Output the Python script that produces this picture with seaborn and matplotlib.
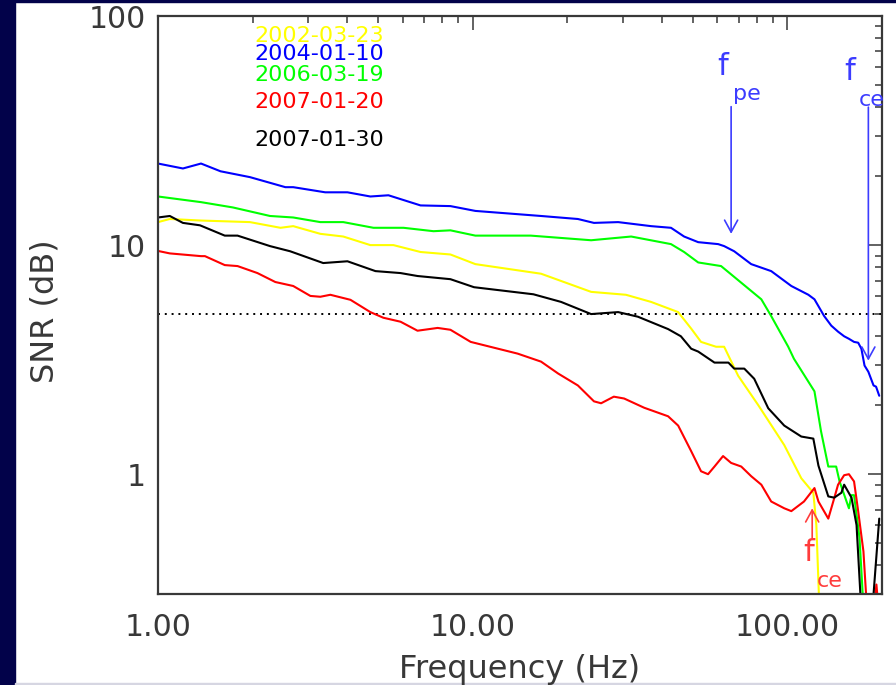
import numpy as np
import pandas as pd
import matplotlib
matplotlib.use("Agg")
import matplotlib.pyplot as plt
from matplotlib.patches import Rectangle
from matplotlib.ticker import FixedLocator, FixedFormatter, LogLocator, NullFormatter
import seaborn as sns

# ---- data -------------------------------------------------------------
dates = ["2002-03-23", "2004-01-10", "2006-03-19", "2007-01-20", "2007-01-30"]
line_colors = ["#ffff00", "#0000ff", "#00ff00", "#ff0000", "#000000"]

freq_2002 = [1.0, 1.09, 1.37, 1.96, 2.45, 2.69, 3.28, 3.88, 4.73, 5.6, 6.83, 8.5,
             10.2, 16.5, 23.8, 30.7, 36.9, 45.0, 49.5, 53.2, 59.4, 63.0, 69.8,
             80.9, 97.8, 110.8, 121.0, 123.7, 126.0, 128.0]
snr_2002 = [12.6, 13.0, 12.8, 12.6, 11.9, 12.1, 11.2, 10.9, 10.0, 10.0, 9.33, 9.1,
            8.26, 7.5, 6.25, 6.07, 5.65, 5.1, 4.32, 3.78, 3.6, 3.6, 2.69,
            2.0, 1.34, 0.96, 0.83, 0.6, 0.3, 0.2]

freq_2004 = [1.0, 1.2, 1.37, 1.58, 1.96, 2.54, 2.69, 3.4, 4.0, 4.73, 5.4, 6.83, 8.5,
             10.2, 16.5, 21.6, 24.3, 29.0, 36.9, 42.7, 47.0, 52.1, 60.3, 63.0,
             67.8, 76.8, 88.9, 103.0, 116.7, 122.0, 131.0, 138.0, 145.0, 151.6,
             157.0, 163.0, 168.0, 172.0, 176.0, 181.0, 188.0, 191.5, 196.0]
snr_2004 = [22.7, 21.6, 22.7, 21.0, 19.8, 17.9, 17.9, 17.0, 17.0, 16.3, 16.5, 14.9, 14.8,
            14.1, 13.4, 13.0, 12.5, 12.6, 12.1, 11.9, 10.9, 10.3, 10.1, 9.9,
            9.4, 8.26, 7.7, 6.63, 6.07, 5.8, 4.9, 4.45, 4.19, 4.0,
            3.9, 3.78, 3.75, 3.53, 2.98, 2.8, 2.44, 2.41, 2.2]

freq_2006 = [1.0, 1.37, 1.73, 2.27, 2.69, 3.28, 3.88, 4.84, 6.03, 7.51, 8.5,
             10.2, 15.3, 23.8, 31.9, 42.7, 47.0, 52.1, 61.6, 82.7, 88.9, 100.7,
             105.0, 122.0, 128.0, 135.0, 143.0, 146.6, 157.0, 160.0, 163.0,
             169.6, 175.0]
snr_2006 = [16.3, 15.4, 14.6, 13.4, 13.2, 12.6, 12.6, 11.9, 11.9, 11.5, 11.6,
            11.0, 11.0, 10.5, 10.9, 10.1, 9.33, 8.4, 8.1, 5.8, 4.9, 3.6,
            3.19, 2.3, 1.54, 1.08, 1.08, 0.93, 0.71, 0.81, 0.81,
            0.53, 0.25]

freq_20070120 = [1.0, 1.09, 1.37, 1.41, 1.63, 1.79, 2.07, 2.36, 2.69, 3.05, 3.28, 3.53,
                 4.09, 4.73, 5.2, 5.9, 6.68, 7.74, 8.5, 9.86, 13.9, 16.5, 18.7,
                 21.6, 24.3, 25.6, 28.1, 30.3, 35.1, 41.8, 45.0, 49.5, 53.2, 56.0,
                 58.7, 62.5, 66.3, 71.4, 76.8, 82.7, 88.9, 97.8, 103.0, 113.0,
                 122.0, 125.6, 135.0, 140.0, 145.0, 151.6, 157.0, 163.0, 168.0,
                 174.6, 178.5, 185.0, 192.0, 198.0]
snr_20070120 = [9.43, 9.2, 8.95, 8.95, 8.18, 8.1, 7.55, 6.9, 6.63, 6.0, 5.95, 6.07,
                5.77, 5.1, 4.82, 4.63, 4.23, 4.35, 4.27, 3.78, 3.36, 3.1, 2.75,
                2.44, 2.08, 2.04, 2.18, 2.14, 1.95, 1.79, 1.63, 1.26, 1.03, 1.0,
                1.08, 1.2, 1.12, 1.08, 0.98, 0.9, 0.76, 0.71, 0.69, 0.76,
                0.87, 0.76, 0.64, 0.76, 0.90, 0.99, 1.0, 0.93, 0.69,
                0.46, 0.28, 0.2, 0.33, 0.2]

freq_20070130 = [1.0, 1.09, 1.2, 1.36, 1.63, 1.79, 2.27, 2.63, 3.35, 4.0, 4.91, 5.9,
                 6.68, 8.5, 10.1, 15.6, 19.1, 23.8, 29.0, 33.5, 41.8, 45.9, 49.5,
                 52.1, 58.7, 65.0, 67.8, 73.0, 78.5, 87.0, 97.8, 110.8, 121.0,
                 125.6, 135.0, 141.0, 148.6, 151.6, 160.0, 166.0, 172.0, 180.0,
                 188.0, 196.0]
snr_20070130 = [13.2, 13.4, 12.5, 12.2, 11.0, 11.0, 9.9, 9.4, 8.35, 8.5, 7.7, 7.55,
                7.33, 7.1, 6.55, 6.1, 5.65, 5.0, 5.1, 4.87, 4.3, 4.0, 3.53,
                3.43, 3.07, 3.07, 2.89, 2.89, 2.61, 1.94, 1.63, 1.46, 1.43,
                1.09, 0.80, 0.79, 0.83, 0.90, 0.79, 0.6, 0.25, 0.15,
                0.3, 0.64]

threshold = 5.0

x_ticks = [1, 10, 100]
x_tick_labels = ["1.00", "10.00", "100.00"]
y_ticks = [1, 10, 100]
y_tick_labels = ["1", "10", "100"]

series = [(freq_2002, snr_2002), (freq_2004, snr_2004), (freq_2006, snr_2006),
          (freq_20070120, snr_20070120), (freq_20070130, snr_20070130)]

df = pd.concat(
    [pd.DataFrame({"freq": f, "snr": s, "date": d}) for d, (f, s) in zip(dates, series)],
    ignore_index=True,
)

# ---- figure -----------------------------------------------------------
sns.set_style("white")
plt.rcParams["font.family"] = ["DejaVu Sans"]
text_color = "#383838"
navy = "#02024a"

fig = plt.figure(figsize=(8.96, 6.85), dpi=100, facecolor="white")
fig.patches.append(Rectangle((0, 0), 15 / 896, 1, transform=fig.transFigure,
                             color=navy, zorder=-10))
fig.patches.append(Rectangle((0, 1 - 2 / 685), 1, 2 / 685, transform=fig.transFigure,
                             color=navy, zorder=-10))
fig.patches.append(Rectangle((15 / 896, 0), 1, 2 / 685, transform=fig.transFigure,
                             color="#d6d6e2", zorder=-10))

ax = fig.add_axes([158 / 896, 1 - 594 / 685, 724 / 896, 578 / 685])
ax.set_facecolor("white")

sns.lineplot(data=df, x="freq", y="snr", hue="date", hue_order=dates,
             palette=dict(zip(dates, line_colors)), sort=False, estimator=None,
             linewidth=1.5, legend=False, ax=ax)

ax.axhline(threshold, color="black", linestyle=(0, (1, 2.5)), linewidth=1.4, zorder=1)

ax.set_xscale("log")
ax.set_yscale("log")
ax.set_xlim(1, 200)
ax.set_ylim(0.3, 100)

ax.xaxis.set_major_locator(FixedLocator(x_ticks))
ax.xaxis.set_major_formatter(FixedFormatter(x_tick_labels))
ax.xaxis.set_minor_locator(LogLocator(base=10, subs=np.arange(2, 10)))
ax.xaxis.set_minor_formatter(NullFormatter())
ax.yaxis.set_major_locator(FixedLocator(y_ticks))
ax.yaxis.set_major_formatter(FixedFormatter(y_tick_labels))
ax.yaxis.set_minor_locator(LogLocator(base=10, subs=np.arange(2, 10)))
ax.yaxis.set_minor_formatter(NullFormatter())

ax.tick_params(which="both", direction="in", top=True, right=True,
               color=text_color, width=1.1, labelcolor=text_color, labelsize=21.5)
ax.tick_params(which="major", length=10)
ax.tick_params(which="minor", length=5)
ax.tick_params(axis="x", which="major", pad=14)
ax.tick_params(axis="y", which="major", pad=9)
for sp in ax.spines.values():
    sp.set_color(text_color)
    sp.set_linewidth(1.6)

ax.set_xlabel("Frequency (Hz)", fontsize=23, color=text_color)
ax.set_ylabel("SNR (dB)", fontsize=23, color=text_color)
ax.xaxis.set_label_coords(0.5, -0.103)
ax.yaxis.set_label_coords(-0.135, 0.49)

# date labels, each in its curve colour
label_y = [0.9555, 0.9239, 0.8875, 0.8408, 0.7751]
for d, c, yy in zip(dates, line_colors, label_y):
    ax.text(0.1326, yy, d, transform=ax.transAxes, color=c, fontsize=16,
            ha="left", va="baseline")

# characteristic frequencies
blue_ann = "#3c3cff"
red_ann = "#ff3c3c"
arrow_style = "->,head_length=0.86,head_width=0.47"

ax.annotate("", xy=(66.3, 11.2), xytext=(66.3, 40.2),
            arrowprops=dict(arrowstyle=arrow_style, color=blue_ann, lw=1.2,
                            shrinkA=0, shrinkB=0, mutation_scale=10))
ax.text(62.5, 60, "f", color=blue_ann, fontsize=22, ha="center", va="center")
ax.text(74.6, 45.8, "pe", color=blue_ann, fontsize=16, ha="center", va="center")

ax.annotate("", xy=(181, 3.13), xytext=(181, 40),
            arrowprops=dict(arrowstyle=arrow_style, color=blue_ann, lw=1.2,
                            shrinkA=0, shrinkB=0, mutation_scale=10))
ax.text(157.5, 57.2, "f", color=blue_ann, fontsize=22, ha="center", va="center")
ax.text(185, 43.2, "ce", color=blue_ann, fontsize=16, ha="center", va="center",
        clip_on=False)

ax.annotate("", xy=(120, 0.71), xytext=(120, 0.527),
            arrowprops=dict(arrowstyle=arrow_style, color=red_ann, lw=1.2,
                            shrinkA=0, shrinkB=0, mutation_scale=10))
ax.text(116.7, 0.454, "f", color=red_ann, fontsize=22, ha="center", va="center")
ax.text(136, 0.343, "ce", color=red_ann, fontsize=16, ha="center", va="center")

fig.savefig("out.png", dpi=100, facecolor="white")
